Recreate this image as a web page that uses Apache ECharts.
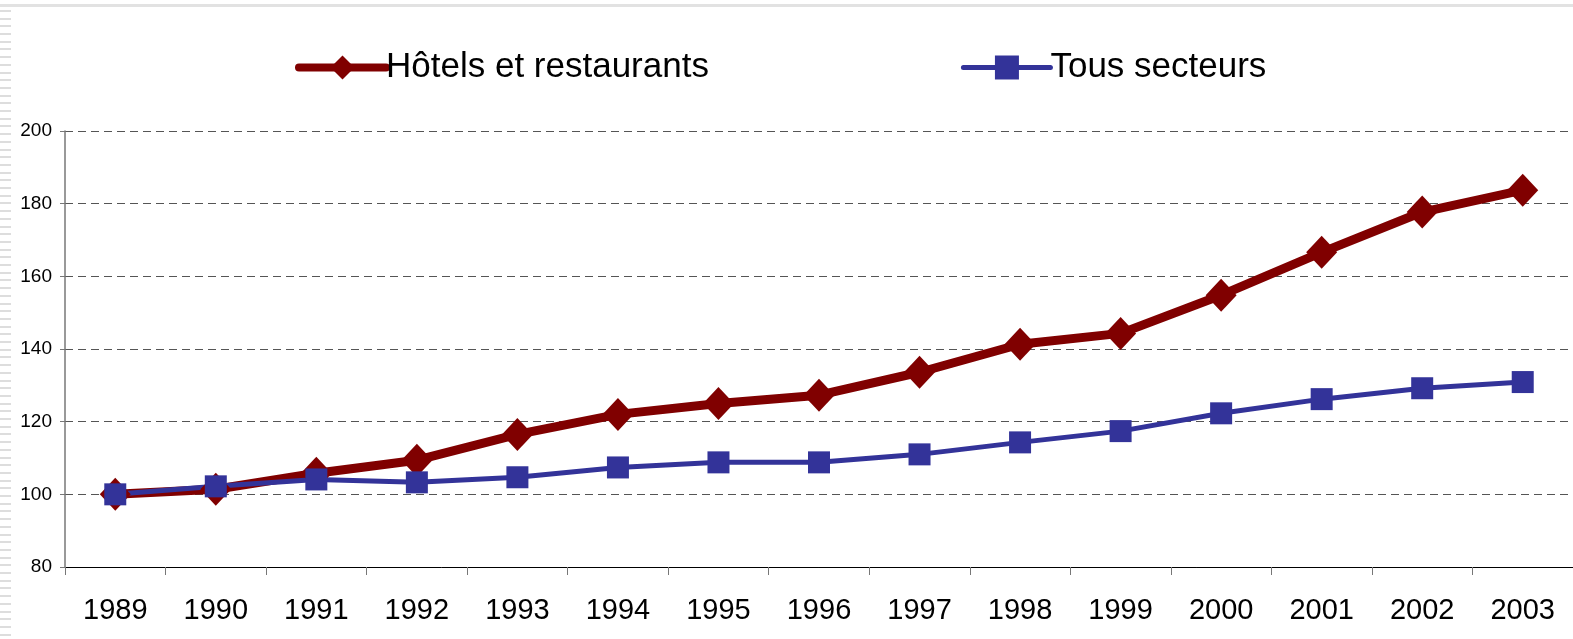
<!DOCTYPE html>
<html>
<head>
<meta charset="utf-8">
<style>
  html, body { margin: 0; padding: 0; background: #fff; }
  #chart { width: 1573px; height: 639px; }
  #edge { position: absolute; left: 0; top: 10px; width: 11px; height: 629px;
    background: repeating-linear-gradient(to bottom, #ddd 0, #ddd 2px, #fff 2px, #fff 7.7px); }
  #topline { position: absolute; left: 0; top: 4px; width: 1573px; height: 3px; background: #e2e2e2; }
</style>
<script src="https://cdn.jsdelivr.net/npm/echarts@6/dist/echarts.min.js"></script>
</head>
<body>
<div id="topline"></div>
<div id="edge"></div>
<div id="chart"></div>
<script>
// années
var years = ['1989', '1990', '1991', '1992', '1993', '1994', '1995', '1996',
  '1997', '1998', '1999', '2000', '2001', '2002', '2003'];
// indices base 100 en 1989
var hotels = [100, 101.4, 105.8, 109.4, 116.5, 122, 125, 127.3, 133.6, 141.3, 144.3, 154.8, 166.6, 177.7, 183.7];
var tous = [100, 102.2, 104.1, 103.3, 104.7, 107.4, 108.8, 108.8, 111, 114.3, 117.4, 122.3, 126.2, 129.2, 130.9];
var seriesNames = ['Hôtels et restaurants', 'Tous secteurs'];

var chart = echarts.init(document.getElementById('chart'));
var font = '"Liberation Sans", Arial, sans-serif';

var option = {
  animation: false,
  textStyle: { fontFamily: font },
  legend: {
    top: 45,
    left: 290,
    itemWidth: 87,
    itemHeight: 30,
    itemGap: 252,
    textStyle: { fontSize: 35, color: '#000', fontFamily: font, padding: [0, 0, 0, -5] },
    data: [
      { name: seriesNames[0], lineStyle: { width: 8, color: '#800000', cap: 'round' } },
      { name: seriesNames[1], lineStyle: { width: 5, color: '#333399', cap: 'round' } }
    ]
  },
  grid: { left: 65, top: 131, width: 1510, height: 436 },
  xAxis: {
    type: 'category',
    data: years,
    boundaryGap: true,
    axisLine: { lineStyle: { color: '#000', width: 1 } },
    axisTick: { show: true, length: 8, lineStyle: { color: '#777' } },
    axisLabel: { fontSize: 29, color: '#000', margin: 29, fontFamily: font }
  },
  yAxis: {
    type: 'value',
    min: 80,
    max: 200,
    interval: 20,
    axisLine: { show: true, lineStyle: { color: '#777', width: 1.5 } },
    axisTick: { show: true, length: 5, lineStyle: { color: '#777' } },
    axisLabel: { fontSize: 19, color: '#000', margin: 13, fontFamily: font },
    splitLine: { show: true, lineStyle: { color: '#555', type: [8, 5], width: 1 } }
  },
  series: [
    {
      name: seriesNames[0],
      type: 'line',
      data: hotels,
      symbol: 'diamond',
      symbolSize: [31, 33],
      color: '#800000',
      lineStyle: { width: 9, color: '#800000' },
      itemStyle: { color: '#800000' }
    },
    {
      name: seriesNames[1],
      type: 'line',
      data: tous,
      symbol: 'rect',
      symbolSize: 22,
      color: '#333399',
      lineStyle: { width: 5, color: '#333399' },
      itemStyle: { color: '#333399' }
    }
  ]
};
chart.setOption(option);
</script>
</body>
</html>
